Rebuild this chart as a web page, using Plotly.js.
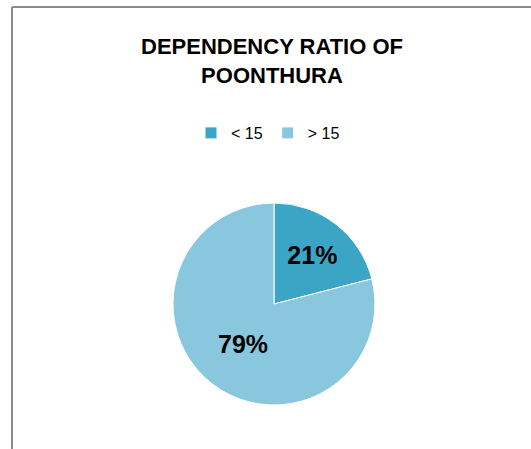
<!DOCTYPE html>
<html>
<head>
<meta charset="utf-8">
<script src="https://cdn.plot.ly/plotly-3.0.1.min.js"></script>
<style>html,body{margin:0;padding:0;background:#fff;}#chart{width:531px;height:449px;}</style>
</head>
<body>
<div id="chart"></div>
<script>
const categories = ["< 15", "> 15"];
const values = [21, 79];
const sliceColors = ["#3aa5c5", "#88c7dd"];
const chartTitle = "DEPENDENCY RATIO OF<br>POONTHURA";

const W = 531, H = 449;
const cx = 274, cy = 304, r = 101;

const trace = {
  type: "pie",
  labels: categories,
  values: values,
  sort: false,
  direction: "clockwise",
  rotation: 0,
  textinfo: "percent",
  texttemplate: "%{percent:.0%}",
  textposition: "inside",
  insidetextorientation: "horizontal",
  textfont: {family: "Liberation Sans, Arial, sans-serif", size: 25, color: "#000", weight: "bold"},
  marker: {colors: sliceColors, line: {color: "#ffffff", width: 1}},
  domain: {x: [(cx - r) / W, (cx + r) / W], y: [(H - cy - r) / H, (H - cy + r) / H]},
  hoverinfo: "none"
};

const layout = {
  width: W, height: H,
  margin: {l: 0, r: 0, t: 0, b: 0},
  paper_bgcolor: "#ffffff",
  title: {
    text: chartTitle,
    font: {family: "Liberation Sans, Arial, sans-serif", size: 22, color: "#000", weight: "bold"},
    x: 272 / W, xanchor: "center", xref: "paper",
    y: 1 - 54 / H, yanchor: "top", yref: "paper"
  },
  showlegend: true,
  legend: {
    orientation: "h",
    x: 268 / W, xanchor: "center",
    y: 1 - 133 / H, yanchor: "middle",
    font: {family: "Liberation Sans, Arial, sans-serif", size: 16, color: "#000"},
    itemwidth: 30,
    traceorder: "normal"
  },
  shapes: [
    {type: "line", xref: "paper", yref: "paper", x0: 12 / W, x1: 1, y0: 1 - 7 / H, y1: 1 - 7 / H, line: {color: "#8a8a8a", width: 2}},
    {type: "line", xref: "paper", yref: "paper", x0: 12 / W, x1: 12 / W, y0: 0, y1: 1 - 7 / H, line: {color: "#8a8a8a", width: 2}}
  ]
};

Plotly.newPlot("chart", [trace], layout, {displayModeBar: false, staticPlot: true});
</script>
</body>
</html>
